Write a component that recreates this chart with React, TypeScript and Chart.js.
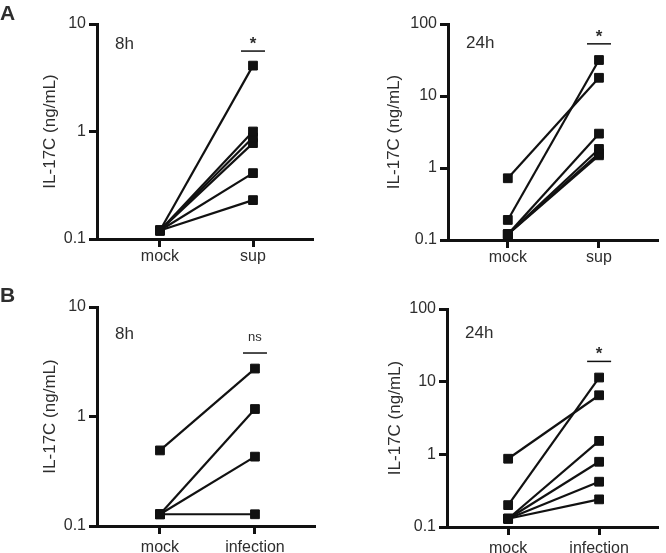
import React, { useEffect, useRef } from "react";
import { Chart, registerables } from "chart.js";

Chart.register(...registerables);

const FONT = '"Liberation Sans", Arial, Helvetica, sans-serif';
const TEXT = "#2e2e2e";
const INK = "#111111";

// Categories
const categoriesA = ["mock", "sup"];
const categoriesB = ["mock", "infection"];

// Y tick values
const yTicks8h = [0.1, 1, 10];
const yTicks24h = [0.1, 1, 10, 100];

// Panel A 8h (paired mock -> sup)
const a8hMock = [0.12, 0.12, 0.12, 0.12, 0.12, 0.12];
const a8hSup = [4.1, 1.0, 0.88, 0.78, 0.41, 0.23];
// Panel A 24h
const a24hMock = [0.72, 0.19, 0.12, 0.12, 0.12, 0.12];
const a24hSup = [17.9, 31.6, 3.0, 1.84, 1.6, 1.5];
// Panel B 8h (mock -> infection)
const b8hMock = [0.49, 0.128, 0.128, 0.128];
const b8hInf = [2.74, 1.17, 0.43, 0.128];
// Panel B 24h
const b24hMock = [0.87, 0.2, 0.13, 0.13, 0.13, 0.13];
const b24hInf = [6.5, 11.4, 1.53, 0.79, 0.42, 0.24];

const timeLabels = ["8h", "24h", "8h", "24h"];
const sigLabels = ["*", "*", "ns", "*"];
const sigLevels = [5.6, 53, 3.8, 19];
const yTitle = "IL-17C (ng/mL)";

type PanelProps = {
  idx: number;
  left: number;
  top: number;
  width: number;
  height: number;
  cats: string[];
  before: number[];
  after: number[];
  yTicks: number[];
  axisW: number;
  padTop: number;
  padRight: number;
  xH: number;
  xPad: number;
  titlePad: number;
  timeOff: number;
  xMin: number;
  xMax: number;
};

function Panel(p: PanelProps) {
  const ref = useRef<HTMLCanvasElement | null>(null);
  useEffect(() => {
    if (!ref.current) return;
    const datasets = p.before.map((b, i) => ({
      data: [
        { x: 0, y: b },
        { x: 1, y: p.after[i] },
      ],
      borderColor: INK,
      backgroundColor: INK,
      borderWidth: 2.2,
      pointStyle: "rect" as const,
      pointRadius: 6.2,
      pointBorderWidth: 1,
      pointBackgroundColor: INK,
      pointBorderColor: INK,
      showLine: true,
      clip: false as const,
    }));
    const annot = {
      id: "annot" + p.idx,
      afterDraw(chart: any) {
        const ctx = chart.ctx;
        const xs = chart.scales.x;
        const ys = chart.scales.y;
        const ca = chart.chartArea;
        ctx.save();
        ctx.fillStyle = TEXT;
        ctx.textBaseline = "alphabetic";
        ctx.textAlign = "left";
        ctx.font = `17px ${FONT}`;
        ctx.fillText(timeLabels[p.idx], ca.left + 18, ca.top + p.timeOff);
        const x1 = xs.getPixelForValue(1);
        const yb = ys.getPixelForValue(sigLevels[p.idx]);
        ctx.strokeStyle = INK;
        ctx.lineWidth = 1.5;
        ctx.beginPath();
        ctx.moveTo(x1 - 12, yb);
        ctx.lineTo(x1 + 12, yb);
        ctx.stroke();
        ctx.textAlign = "center";
        const s = sigLabels[p.idx];
        if (s === "ns") {
          ctx.font = `13px ${FONT}`;
          ctx.fillText(s, x1, yb - 12);
        } else {
          ctx.font = `bold 17px ${FONT}`;
          ctx.fillText(s, x1, yb - 2);
        }
        ctx.restore();
      },
    };
    const chart = new Chart(ref.current, {
      type: "scatter",
      data: { datasets },
      plugins: [annot],
      options: {
        animation: false,
        responsive: false,
        maintainAspectRatio: false,
        layout: { padding: { top: p.padTop, right: p.padRight, left: 0, bottom: 0 } },
        plugins: { legend: { display: false }, tooltip: { enabled: false } },
        scales: {
          x: {
            type: "linear",
            min: p.xMin,
            max: p.xMax,
            afterBuildTicks: (scale: any) => {
              scale.ticks = [{ value: 0 }, { value: 1 }];
            },
            afterFit: (scale: any) => {
              scale.height = p.xH;
            },
            ticks: {
              autoSkip: false,
              padding: p.xPad,
              color: TEXT,
              font: { family: FONT, size: 16 },
              callback: (_v: any, i: number) => p.cats[i],
            },
            grid: {
              display: true,
              drawOnChartArea: false,
              drawTicks: true,
              tickLength: 8,
              tickWidth: 3,
              tickColor: INK,
            },
            border: { display: true, color: INK, width: 3 },
          },
          y: {
            type: "logarithmic",
            min: p.yTicks[0],
            max: p.yTicks[p.yTicks.length - 1],
            afterBuildTicks: (scale: any) => {
              scale.ticks = p.yTicks.map((v) => ({ value: v }));
            },
            afterFit: (scale: any) => {
              scale.width = p.axisW;
            },
            ticks: {
              autoSkip: false,
              padding: 3,
              color: TEXT,
              font: { family: FONT, size: 16 },
              callback: (v: any) => String(v),
            },
            grid: {
              display: true,
              drawOnChartArea: false,
              drawTicks: true,
              tickLength: 8,
              tickWidth: 3,
              tickColor: INK,
            },
            border: { display: true, color: INK, width: 3 },
            title: {
              display: true,
              text: yTitle,
              color: TEXT,
              font: { family: FONT, size: 17 },
              padding: { top: p.titlePad, bottom: 0 },
            },
          },
        },
      } as any,
    });
    return () => chart.destroy();
  }, []);
  return (
    <div style={{ position: "absolute", left: p.left, top: p.top, width: p.width, height: p.height }}>
      <canvas ref={ref} width={p.width} height={p.height} style={{ display: "block" }} />
    </div>
  );
}

const letterStyle: React.CSSProperties = {
  position: "absolute",
  fontFamily: FONT,
  fontWeight: "bold",
  fontSize: 21,
  color: TEXT,
  lineHeight: "21px",
};

export default function App() {
  return (
    <div style={{ position: "absolute", left: 0, top: 0, width: 666, height: 553, background: "#fff", overflow: "hidden" }}>
      <Panel idx={0} left={0} top={0} width={333} height={280} cats={categoriesA} before={a8hMock} after={a8hSup}
        yTicks={yTicks8h} axisW={97} padTop={24} padRight={20} xH={41} xPad={0} titlePad={40} timeOff={25} xMin={-0.677} xMax={1.645} />
      <Panel idx={1} left={333} top={0} width={333} height={280} cats={categoriesA} before={a24hMock} after={a24hSup}
        yTicks={yTicks24h} axisW={115} padTop={24} padRight={3} xH={40} xPad={0} titlePad={51} timeOff={24} xMin={-0.656} xMax={1.656} />
      <Panel idx={2} left={0} top={280} width={333} height={273} cats={categoriesB} before={b8hMock} after={b8hInf}
        yTicks={yTicks8h} axisW={97} padTop={27} padRight={18} xH={27} xPad={4} titlePad={40} timeOff={32} xMin={-0.663} xMax={1.632} />
      <Panel idx={3} left={333} top={280} width={333} height={273} cats={categoriesB} before={b24hMock} after={b24hInf}
        yTicks={yTicks24h} axisW={114} padTop={29} padRight={3} xH={26} xPad={4} titlePad={52} timeOff={29} xMin={-0.672} xMax={1.656} />
      <div style={{ ...letterStyle, left: 0, top: 2 }}>A</div>
      <div style={{ ...letterStyle, left: 0, top: 284 }}>B</div>
    </div>
  );
}
